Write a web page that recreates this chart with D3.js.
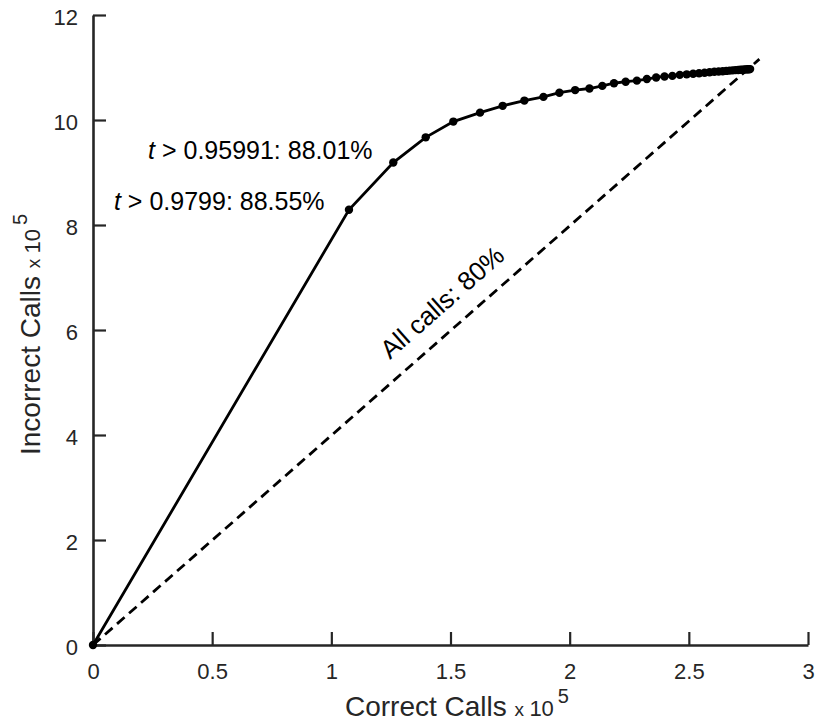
<!DOCTYPE html>
<html>
<head>
<meta charset="utf-8">
<script src="https://cdn.jsdelivr.net/npm/d3@7"></script>
<style>
  body { margin: 0; background: #fff; }
  text { font-family: "Liberation Sans", Arial, sans-serif; }
</style>
</head>
<body>
<div id="chart"></div>
<script>
// correct calls (x 10^5) and incorrect calls (x 10^5) along the threshold curve
const correctCalls = [0, 1.074, 1.260, 1.396, 1.512, 1.624, 1.719, 1.810, 1.890, 1.957, 2.023,
  2.083, 2.137, 2.186, 2.235, 2.282, 2.324, 2.363, 2.398, 2.431, 2.462, 2.491, 2.518, 2.543,
  2.566, 2.587, 2.607, 2.625, 2.642, 2.657, 2.671, 2.684, 2.696, 2.707, 2.717, 2.726, 2.734,
  2.741, 2.747, 2.752, 2.757];
const incorrectCalls = [0, 8.29, 9.19, 9.67, 9.97, 10.14, 10.27, 10.37, 10.44, 10.52, 10.57,
  10.60, 10.65, 10.70, 10.73, 10.75, 10.78, 10.81, 10.83, 10.84, 10.86, 10.87, 10.88, 10.89,
  10.90, 10.91, 10.92, 10.925, 10.93, 10.935, 10.94, 10.945, 10.95, 10.953, 10.956, 10.959, 10.962,
  10.964, 10.966, 10.968, 10.97];

// "all calls" reference line
const allCallsX = [0, 2.796];
const allCallsY = [0, 11.16];

const xTicks = [0, 0.5, 1, 1.5, 2, 2.5, 3];
const yTicks = [0, 2, 4, 6, 8, 10, 12];

// threshold annotations
const thresholdLabels = [
  { x: 0.231, y: 9.257, t: "0.95991", pct: "88.01%" },
  { x: 0.088, y: 8.286, t: "0.9799", pct: "88.55%" }
];

const width = 816, height = 724;
const ink = "#262626";

const svg = d3.select("#chart").append("svg")
  .attr("width", width)
  .attr("height", height);

const xScale = d3.scaleLinear().domain([0, 3]).range([93, 808]);
const yScale = d3.scaleLinear().domain([0, 12]).range([645, 15]);

// axes, ticks pointing inward like matlab
const xAxis = d3.axisBottom(xScale).tickValues(xTicks).tickFormat(d3.format("")).tickSizeInner(-13).tickSizeOuter(0).tickPadding(18);
const yAxis = d3.axisLeft(yScale).tickValues(yTicks).tickFormat(d3.format("")).tickSizeInner(-13).tickSizeOuter(0).tickPadding(15);

const gx = svg.append("g")
  .attr("transform", `translate(0, ${yScale(0)})`)
  .call(xAxis);
const gy = svg.append("g")
  .attr("transform", `translate(${xScale(0)}, 0)`)
  .call(yAxis);

[gx, gy].forEach(g => {
  g.select(".domain").attr("stroke", ink).attr("stroke-width", 2.6);
  g.selectAll(".tick line").attr("stroke", ink).attr("stroke-width", 2.2);
  g.selectAll(".tick text").attr("fill", ink).style("font-size", "22px")
    .style("font-family", "'Liberation Sans', Arial, sans-serif");
});
gy.selectAll(".tick text").attr("dy", "0.38em").attr("y", 1.5);

// dashed all-calls line
const line = d3.line().x(d => xScale(d[0])).y(d => yScale(d[1]));
svg.append("path")
  .datum(allCallsX.map((x, i) => [x, allCallsY[i]]))
  .attr("d", line)
  .attr("fill", "none")
  .attr("stroke", "#000")
  .attr("stroke-width", 2.8)
  .attr("stroke-dasharray", "10,6");

// threshold curve
const curve = correctCalls.map((x, i) => [x, incorrectCalls[i]]);
svg.append("path")
  .datum(curve)
  .attr("d", line)
  .attr("fill", "none")
  .attr("stroke", "#000")
  .attr("stroke-width", 2.8);

svg.append("g").selectAll("circle")
  .data(curve)
  .join("circle")
  .attr("cx", d => xScale(d[0]))
  .attr("cy", d => yScale(d[1]))
  .attr("r", 4.2)
  .attr("fill", "#000");

// label along the dashed line
const angle = Math.atan2(yScale(allCallsY[1]) - yScale(0), xScale(allCallsX[1]) - xScale(0)) * 180 / Math.PI;
svg.append("text")
  .attr("transform", `translate(${xScale(1.49)}, ${yScale(6.4)}) rotate(${angle})`)
  .attr("text-anchor", "middle")
  .style("font-size", "26px")
  .attr("fill", "#000")
  .text("All calls: 80%");

// threshold annotations
thresholdLabels.forEach(l => {
  const t = svg.append("text")
    .attr("x", xScale(l.x))
    .attr("y", yScale(l.y))
    .style("font-size", "25px")
    .attr("fill", "#000");
  t.append("tspan").style("font-style", "italic").text("t");
  t.append("tspan").text(` > ${l.t}: ${l.pct}`);
});

// axis titles
const xt = svg.append("text")
  .attr("x", 345)
  .attr("y", 716)
  .attr("fill", ink)
  .style("font-size", "28px");
xt.append("tspan").text("Correct Calls ");
xt.append("tspan").style("font-size", "19px").text("x ");
xt.append("tspan").style("font-size", "22px").text("10");
xt.append("tspan").style("font-size", "20px").attr("dx", 4).attr("dy", -13).text("5");

const yt = svg.append("text")
  .attr("transform", "translate(40, 455) rotate(-90)")
  .attr("fill", ink)
  .style("font-size", "28px");
yt.append("tspan").text("Incorrect Calls ");
yt.append("tspan").style("font-size", "19px").text("x ");
yt.append("tspan").style("font-size", "22px").text("10");
yt.append("tspan").style("font-size", "20px").attr("dx", 4).attr("dy", -13).text("5");
</script>
</body>
</html>
